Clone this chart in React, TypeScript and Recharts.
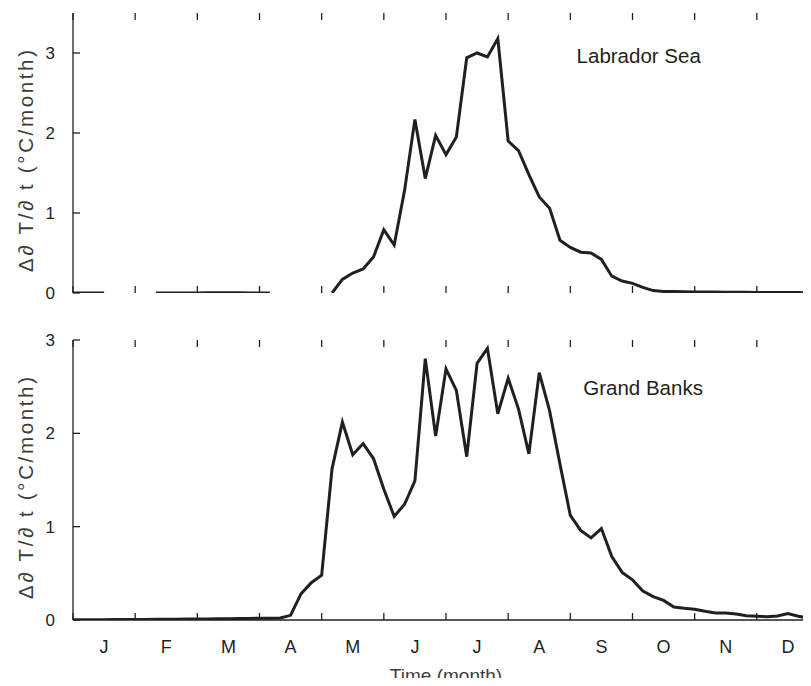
import React from 'react';
import { LineChart, Line, XAxis, YAxis, ReferenceDot } from 'recharts';

// 5-day samples, 6 per month, Jan 1 .. Dec 31
const STEPS_PER_MONTH = 6;
const MONTHS = ['J', 'F', 'M', 'A', 'M', 'J', 'J', 'A', 'S', 'O', 'N', 'D'];
const MONTH_TICKS = [0, 1, 2, 3, 4, 5, 6, 7, 8, 9, 10, 11, 12];
const Y_TICKS = [0, 1, 2, 3];

// Labrador Sea (null = no data)
const labradorSea = [
  0, 0, 0, 0, null, null, null, null,
  0, 0, 0, 0, 0, 0.002, 0.003, 0.003, 0.002, 0, 0, 0,
  null, null, null, null, null,
  0, 0.17, 0.25, 0.3, 0.45,
  0.79, 0.6, 1.28, 2.17, 1.43, 1.97,
  1.73, 1.95, 2.94, 3.0, 2.95, 3.18,
  1.9, 1.78, 1.48, 1.2, 1.06, 0.66,
  0.57, 0.51, 0.5, 0.42, 0.21, 0.15,
  0.12, 0.07, 0.03, 0.02, 0.018, 0.015,
  0.013, 0.012, 0.011, 0.01, 0.009, 0.008,
  0.007, 0.006, 0.006, 0.005, 0.005, 0.004,
  0.004,
];

// Grand Banks
const grandBanks = [
  0.003, 0.003, 0.004, 0.004, 0.005, 0.005,
  0.006, 0.006, 0.007, 0.008, 0.009, 0.01,
  0.011, 0.012, 0.013, 0.014, 0.016, 0.017,
  0.018, 0.02, 0.022, 0.05, 0.28, 0.4,
  0.48, 1.62, 2.12, 1.77, 1.89, 1.73,
  1.4, 1.11, 1.24, 1.49, 2.8, 1.97,
  2.69, 2.46, 1.75, 2.75, 2.91, 2.21,
  2.59, 2.26, 1.78, 2.65, 2.24, 1.67,
  1.12, 0.96, 0.88, 0.98, 0.68, 0.51,
  0.43, 0.31, 0.25, 0.21, 0.14, 0.125,
  0.114, 0.093, 0.075, 0.075, 0.064, 0.046,
  0.04, 0.036, 0.043, 0.068, 0.04, 0.02,
  0.01,
];

const data = labradorSea.map((v, i) => ({
  t: i / STEPS_PER_MONTH,
  lab: v,
  gb: grandBanks[i],
}));

const INK = '#231f20';
const TITLE_INK = '#3c3c3c';
const FONT = 'Arial, "Liberation Sans", Helvetica, sans-serif';
const CHART_W = 823;
const MARGIN_L = 73;
const MARGIN_R = 4;
const PLOT_W = CHART_W - MARGIN_L - MARGIN_R;
const PLOT_H = 280;
const TICK = 7;
const HALF_MONTH = PLOT_W / 24;
const Y_TITLE = 'Δ∂ T/∂ t (°C/month)';

const axisStyle = { stroke: INK, strokeWidth: 1.3 };

const MonthTick = ({ x, y, payload, withLabel }: any) => {
  const label = withLabel ? MONTHS[payload.value] : undefined;
  if (!label) return <g />;
  return (
    <text x={x + HALF_MONTH} y={y + 20} dy="0.71em" textAnchor="middle" fontSize={18} fontFamily={FONT} fill={INK}>
      {label}
    </text>
  );
};

const ValueTick = ({ x, y, payload }: any) => (
  <text x={x - 18} y={y} dy="0.36em" textAnchor="end" fontSize={17} fontFamily={FONT} fill={INK}>
    {payload.value}
  </text>
);

// inward frame ticks, placed with the same linear mapping the axes use
function FrameTicks({ top, yMax }: { top: number; yMax: number }) {
  const xPx = (m: number) => MARGIN_L + (m / 12) * PLOT_W;
  const yPx = (v: number) => top + PLOT_H - (v / yMax) * PLOT_H;
  const bottom = top + PLOT_H;
  return (
    <g stroke={INK} strokeWidth={1.3}>
      {MONTH_TICKS.map((m) => (
        <line key={`b${m}`} x1={xPx(m)} x2={xPx(m)} y1={bottom} y2={bottom - TICK} />
      ))}
      {MONTH_TICKS.map((m) => (
        <line key={`t${m}`} x1={xPx(m)} x2={xPx(m)} y1={top} y2={top + TICK} />
      ))}
      {Y_TICKS.map((v) => (
        <line key={`l${v}`} x1={MARGIN_L} x2={MARGIN_L + TICK} y1={yPx(v)} y2={yPx(v)} />
      ))}
    </g>
  );
}

function Panel({ height, top, yMax, dataKey, title, titleX, titleY, withMonthLabels }: any) {
  const cy = top + 148;
  return (
    <LineChart
      width={CHART_W}
      height={height}
      data={data}
      margin={{ top, right: MARGIN_R, bottom: withMonthLabels ? 0 : height - top - PLOT_H, left: 0 }}
      style={{ display: 'block' }}
    >
      <XAxis
        dataKey="t"
        type="number"
        domain={[0, 12]}
        ticks={MONTH_TICKS}
        interval={0}
        height={withMonthLabels ? height - top - PLOT_H : 0}
        tickSize={0}
        tickMargin={0}
        axisLine={axisStyle}
        tickLine={false}
        tick={(p: any) => <MonthTick {...p} withLabel={withMonthLabels} />}
      />
      <XAxis
        xAxisId="top"
        orientation="top"
        dataKey="t"
        type="number"
        domain={[0, 12]}
        height={0}
        axisLine={axisStyle}
        tickLine={false}
        tick={false}
      />
      <YAxis
        domain={[0, yMax]}
        ticks={Y_TICKS}
        interval={0}
        width={MARGIN_L}
        tickSize={0}
        tickMargin={0}
        axisLine={axisStyle}
        tickLine={false}
        tick={(p: any) => <ValueTick {...p} />}
        allowDataOverflow
      />
      <Line
        type="linear"
        dataKey={dataKey}
        stroke={INK}
        strokeWidth={3}
        dot={false}
        activeDot={false}
        isAnimationActive={false}
      />
      <ReferenceDot
        x={titleX}
        y={titleY}
        r={0}
        fill="none"
        stroke="none"
        label={{ value: title, position: 'center', fontSize: 20.5, fill: INK, fontFamily: FONT }}
      />
      <FrameTicks top={top} yMax={yMax} />
      <text
        x={33}
        y={cy}
        transform={`rotate(-90 33 ${cy})`}
        textAnchor="middle"
        fontSize={20.5}
        textLength={222}
        lengthAdjust="spacing"
        fontFamily={FONT}
        fill={TITLE_INK}
      >
        {Y_TITLE}
      </text>
      {withMonthLabels && (
        <text
          x={MARGIN_L + PLOT_W / 2}
          y={height - 4}
          textAnchor="middle"
          fontSize={19}
          fontFamily={FONT}
          fill={TITLE_INK}
        >
          Time (month)
        </text>
      )}
    </LineChart>
  );
}

export default function App() {
  return (
    <div style={{ margin: -8, width: 811, height: 686, overflow: 'hidden', background: '#fff' }}>
      <Panel height={306} top={13} yMax={3.5} dataKey="lab" title="Labrador Sea" titleX={9.1} titleY={2.97} withMonthLabels={false} />
      <Panel height={380} top={34} yMax={3} dataKey="gb" title="Grand Banks" titleX={9.17} titleY={2.49} withMonthLabels />
    </div>
  );
}
